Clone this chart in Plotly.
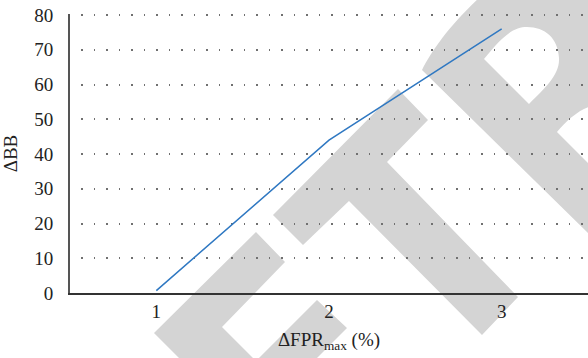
import plotly.graph_objects as go

# Series
fpr_max = [1, 2, 3]
delta_bb = [0.7, 44, 76]

x_ticks = [1, 2, 3]
y_ticks = [0, 10, 20, 30, 40, 50, 60, 70, 80]

W, H = 588, 358
M_L, M_R, M_T, M_B = 70, 0, 14, 65
PW, PH = W - M_L - M_R, H - M_T - M_B
Y_MAX = 80.3  # a hair above 80 so the top dotted gridline is kept


def px_path(cmds):
    """Build an SVG path in paper coordinates from pixel-space commands."""
    out = []
    for c in cmds:
        op, pts = c[0], c[1:]
        conv = []
        for (x, y) in pts:
            conv.append(f"{(x - M_L) / PW:.5f},{(H - M_B - y) / PH:.5f}")
        out.append(op + " ".join(conv) if conv else op)
    return " ".join(out)


# Grey "ETR" watermark behind the grid
wm_E = [("M", (154, 333)), ("L", (256, 232)), ("L", (285, 262)), ("L", (222, 327)),
        ("L", (256, 361)), ("L", (317, 300)), ("L", (347, 328)), ("L", (300, 375)),
        ("L", (196, 375)), ("Z",)]
wm_T = [("M", (273, 215)), ("L", (398, 89)), ("L", (428, 120)), ("L", (387, 162)),
        ("L", (518, 297)), ("L", (482, 335)), ("L", (349, 201)), ("L", (303, 245)), ("Z",)]
wm_R = [("M", (422, 70)), ("C", (432, 50), (450, 25), (480, -3)), ("L", (595, -3)),
        ("L", (595, 106)), ("C", (583, 106), (567, 120), (557, 132)), ("L", (595, 170)),
        ("L", (595, 240)), ("Z",),
        ("M", (484, 59)), ("L", (529, 104)), ("C", (545, 88), (560, 75), (559, 58)),
        ("C", (558, 38), (545, 27), (527, 27)), ("C", (515, 27), (505, 33), (484, 59)), ("Z",)]

shapes = [
    dict(type="path", path=px_path(p), xref="paper", yref="paper",
         fillcolor="#d4d4d4", line=dict(width=0), layer="below")
    for p in (wm_E, wm_T, wm_R)
]

fig = go.Figure()
fig.add_trace(go.Scatter(
    x=fpr_max, y=delta_bb, mode="lines",
    line=dict(color="#2f78c2", width=1.5),
    showlegend=False, hoverinfo="skip",
))

serif = "Liberation Serif"
fig.update_layout(
    width=W, height=H,
    margin=dict(l=M_L, r=M_R, t=M_T, b=M_B, pad=0),
    paper_bgcolor="white",
    plot_bgcolor="rgba(0,0,0,0)",
    font=dict(family=serif, size=19, color="#222222"),
    shapes=shapes,
    xaxis=dict(
        range=[0.5, 3.5], tickvals=x_ticks, ticktext=[str(v) for v in x_ticks],
        showgrid=False, zeroline=False,
        showline=True, linecolor="#333333", linewidth=2,
        ticks="", ticklabelstandoff=0,
        tickfont=dict(family=serif, size=19, color="#222222"),
        title=dict(text="ΔFPR<sub>max</sub> (%)", standoff=12,
                   font=dict(family=serif, size=19, color="#222222")),
    ),
    yaxis=dict(
        range=[0, Y_MAX], tickvals=y_ticks,
        showgrid=True, gridcolor="#707070", gridwidth=1.5,
        griddash="0px,11px,1.5px,0px",
        zeroline=False,
        showline=True, linecolor="#555555", linewidth=2,
        ticks="", ticklabelstandoff=11,
        tickfont=dict(family=serif, size=19, color="#222222"),
        title=dict(text="ΔBB", standoff=12,
                   font=dict(family=serif, size=19, color="#222222")),
    ),
)

fig.write_html("out.html")
